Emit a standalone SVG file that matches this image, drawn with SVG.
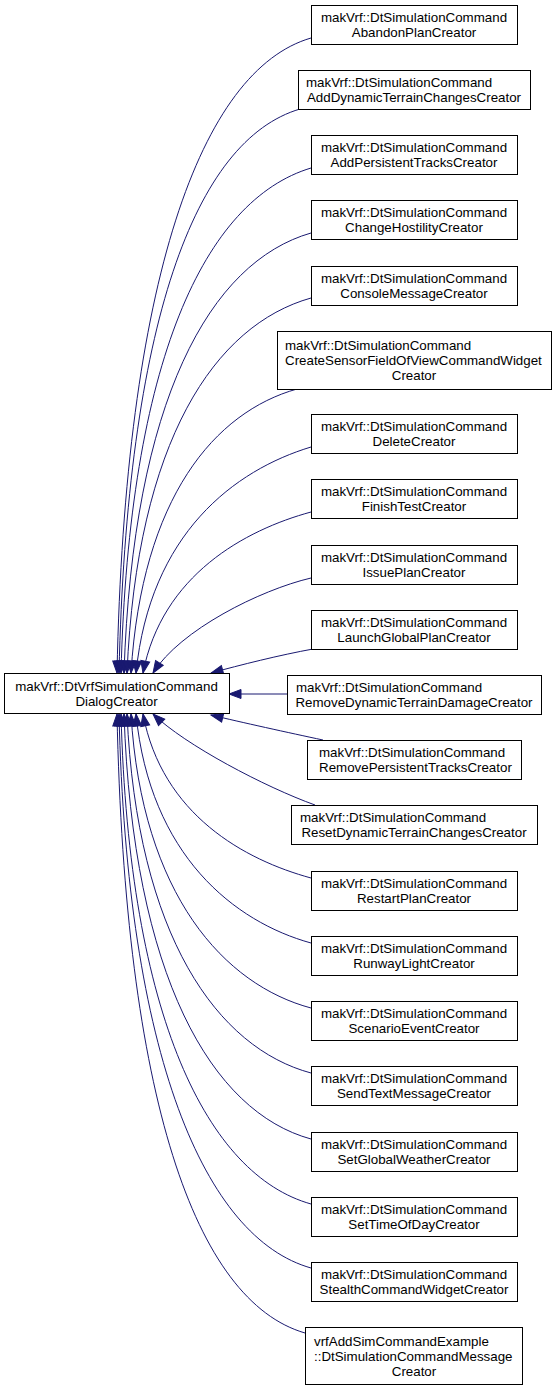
<svg xmlns="http://www.w3.org/2000/svg" width="557" height="1389" viewBox="0 0 557 1389">
<style>
rect { fill:#ffffff; stroke:#000000; stroke-width:1; }
text { font-family:"Liberation Sans", Arial, Helvetica, sans-serif; font-size:13.33px; fill:#000000; }
.m { text-anchor:middle; }
.s { text-anchor:start; }
#edges path { fill:none; stroke:#191970; stroke-width:1; marker-end:url(#ah); }
</style>
<defs>
<marker id="ah" viewBox="0 0 12 9" refX="12" refY="4.5" markerWidth="12" markerHeight="9" orient="auto" markerUnits="userSpaceOnUse" overflow="visible">
<path d="M0,0 L12,4.5 L0,9 Z" fill="#191970" stroke="#191970" stroke-width="1"/>
</marker>
</defs>
<rect x="0" y="0" width="557" height="1389" style="fill:#ffffff;stroke:none"/>
<g id="edges">
<path d="M311,38 C201,70 125,280 117,673"/>
<path d="M300,109 C195,140 127,323 119,673"/>
<path d="M311,168 C205,200 129,360 121,673"/>
<path d="M311,233 C210,262 133,400 124,673"/>
<path d="M311,298 C215,325 137,440 127,673"/>
<path d="M297,389 C215,412 142,497 131,673"/>
<path d="M311,447 C235,470 150,533 136,673"/>
<path d="M311,512 C245,530 162,575 143,673"/>
<path d="M311,578 C260,590 180,630 153,673"/>
<path d="M313,649 C280,655 240,665 211,673"/>
<path d="M287,694 L229,694"/>
<path d="M323,740 C290,733 240,722 211,715"/>
<path d="M315,805 C265,787 185,745 153,714"/>
<path d="M311,878 C245,860 162,815 143,714"/>
<path d="M311,943 C235,922 150,856 136,714"/>
<path d="M311,1008 C225,985 142,896 131,714"/>
<path d="M311,1073 C218,1048 137,937 127,714"/>
<path d="M311,1139 C212,1112 133,977 124,714"/>
<path d="M311,1204 C208,1175 129,1018 121,714"/>
<path d="M311,1268 C205,1238 127,1057 119,714"/>
<path d="M305,1333 C195,1301 125,1098 117,714"/>
</g>
<g id="main">
<rect x="4.5" y="673.5" width="225" height="40"/>
<text class="m" x="116.5" y="691">makVrf::DtVrfSimulationCommand</text>
<text class="m" x="116.5" y="706">DialogCreator</text>
</g>
<g id="n1">
<rect x="311.5" y="5.5" width="206" height="39"/>
<text class="m" x="414" y="21.5">makVrf::DtSimulationCommand</text>
<text class="m" x="414" y="36.5">AbandonPlanCreator</text>
</g>
<g id="n2">
<rect x="298.5" y="70.5" width="232" height="39"/>
<text class="s" x="306" y="86.5">makVrf::DtSimulationCommand</text>
<text class="m" x="414" y="101.5">AddDynamicTerrainChangesCreator</text>
</g>
<g id="n3">
<rect x="311.5" y="135.5" width="206" height="39"/>
<text class="m" x="414" y="151.5">makVrf::DtSimulationCommand</text>
<text class="m" x="414" y="166.5">AddPersistentTracksCreator</text>
</g>
<g id="n4">
<rect x="311.5" y="200.5" width="206" height="39"/>
<text class="m" x="414" y="216.5">makVrf::DtSimulationCommand</text>
<text class="m" x="414" y="231.5">ChangeHostilityCreator</text>
</g>
<g id="n5">
<rect x="311.5" y="266.5" width="206" height="39"/>
<text class="m" x="414" y="282.5">makVrf::DtSimulationCommand</text>
<text class="m" x="414" y="297.5">ConsoleMessageCreator</text>
</g>
<g id="n6">
<rect x="277.5" y="331.5" width="274" height="58"/>
<text class="s" x="285" y="349.5">makVrf::DtSimulationCommand</text>
<text class="s" x="285" y="364.5">CreateSensorFieldOfViewCommandWidget</text>
<text class="m" x="414" y="379.5">Creator</text>
</g>
<g id="n7">
<rect x="311.5" y="414.5" width="206" height="39"/>
<text class="m" x="414" y="430.5">makVrf::DtSimulationCommand</text>
<text class="m" x="414" y="445.5">DeleteCreator</text>
</g>
<g id="n8">
<rect x="311.5" y="479.5" width="206" height="39"/>
<text class="m" x="414" y="495.5">makVrf::DtSimulationCommand</text>
<text class="m" x="414" y="510.5">FinishTestCreator</text>
</g>
<g id="n9">
<rect x="311.5" y="545.5" width="206" height="39"/>
<text class="m" x="414" y="561.5">makVrf::DtSimulationCommand</text>
<text class="m" x="414" y="576.5">IssuePlanCreator</text>
</g>
<g id="n10">
<rect x="311.5" y="610.5" width="206" height="39"/>
<text class="m" x="414" y="626.5">makVrf::DtSimulationCommand</text>
<text class="m" x="414" y="641.5">LaunchGlobalPlanCreator</text>
</g>
<g id="n11">
<rect x="287.5" y="675.5" width="254" height="39"/>
<text class="s" x="296" y="691.5">makVrf::DtSimulationCommand</text>
<text class="m" x="414" y="706.5">RemoveDynamicTerrainDamageCreator</text>
</g>
<g id="n12">
<rect x="307.5" y="740.5" width="214" height="39"/>
<text class="s" x="319" y="756.5">makVrf::DtSimulationCommand</text>
<text class="s" x="319" y="771.5">RemovePersistentTracksCreator</text>
</g>
<g id="n13">
<rect x="291.5" y="805.5" width="246" height="39"/>
<text class="s" x="300" y="821.5">makVrf::DtSimulationCommand</text>
<text class="m" x="414" y="836.5">ResetDynamicTerrainChangesCreator</text>
</g>
<g id="n14">
<rect x="311.5" y="871.5" width="206" height="39"/>
<text class="m" x="414" y="887.5">makVrf::DtSimulationCommand</text>
<text class="m" x="414" y="902.5">RestartPlanCreator</text>
</g>
<g id="n15">
<rect x="311.5" y="936.5" width="206" height="39"/>
<text class="m" x="414" y="952.5">makVrf::DtSimulationCommand</text>
<text class="m" x="414" y="967.5">RunwayLightCreator</text>
</g>
<g id="n16">
<rect x="311.5" y="1001.5" width="206" height="39"/>
<text class="m" x="414" y="1017.5">makVrf::DtSimulationCommand</text>
<text class="m" x="414" y="1032.5">ScenarioEventCreator</text>
</g>
<g id="n17">
<rect x="311.5" y="1066.5" width="206" height="39"/>
<text class="m" x="414" y="1082.5">makVrf::DtSimulationCommand</text>
<text class="m" x="414" y="1097.5">SendTextMessageCreator</text>
</g>
<g id="n18">
<rect x="311.5" y="1132.5" width="206" height="39"/>
<text class="m" x="414" y="1148.5">makVrf::DtSimulationCommand</text>
<text class="m" x="414" y="1163.5">SetGlobalWeatherCreator</text>
</g>
<g id="n19">
<rect x="311.5" y="1197.5" width="206" height="39"/>
<text class="m" x="414" y="1213.5">makVrf::DtSimulationCommand</text>
<text class="m" x="414" y="1228.5">SetTimeOfDayCreator</text>
</g>
<g id="n20">
<rect x="311.5" y="1262.5" width="206" height="39"/>
<text class="m" x="414" y="1278.5">makVrf::DtSimulationCommand</text>
<text class="m" x="414" y="1293.5">StealthCommandWidgetCreator</text>
</g>
<g id="n21">
<rect x="305.5" y="1327.5" width="217" height="57"/>
<text class="s" x="314" y="1345.5">vrfAddSimCommandExample</text>
<text class="s" x="314" y="1360.5">::DtSimulationCommandMessage</text>
<text class="m" x="414" y="1375.5">Creator</text>
</g>
</svg>
